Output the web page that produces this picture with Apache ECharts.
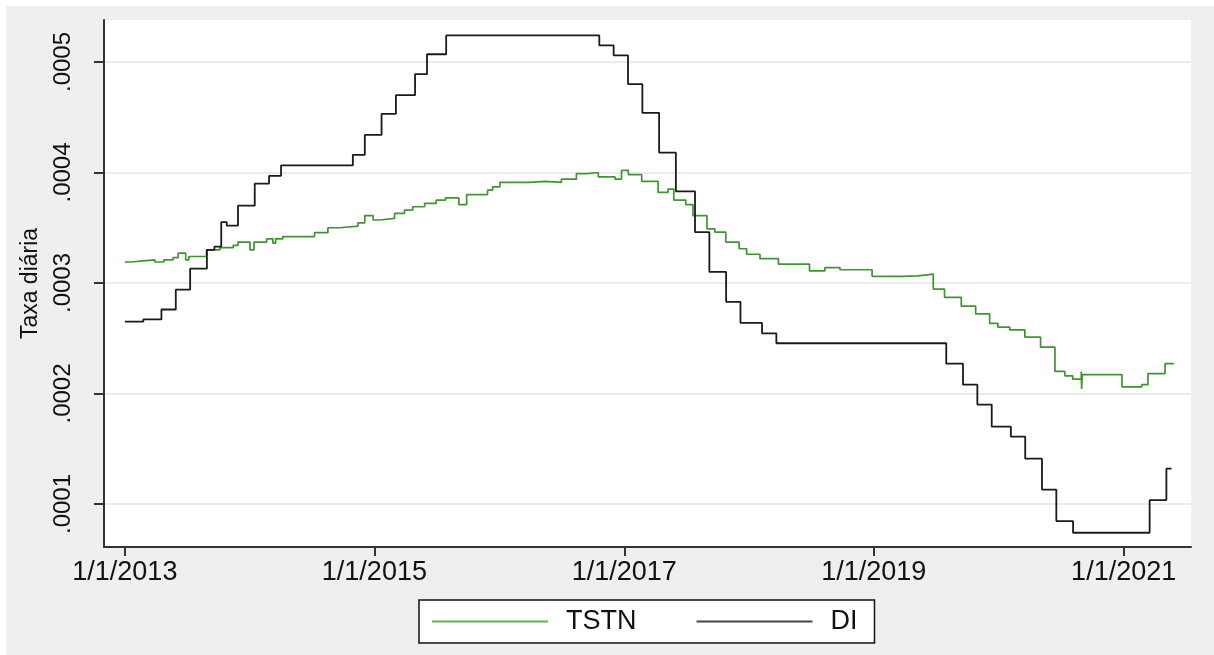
<!DOCTYPE html>
<html>
<head>
<meta charset="utf-8">
<script src="https://cdn.jsdelivr.net/npm/echarts@6/dist/echarts.min.js"></script>
<style>
html,body{margin:0;padding:0;background:#ffffff;}
#chart{position:absolute;left:6px;top:6px;width:1208px;height:649px;}
</style>
</head>
<body>
<div id="chart"></div>
<script>
// DI daily rate (step series): change dates and values
const diDates = ['2013-01-01','2013-02-24','2013-04-18','2013-05-30','2013-07-11','2013-08-29','2013-09-20','2013-10-10','2013-10-26','2013-11-28','2014-01-16','2014-02-27','2014-04-03','2014-10-30','2014-12-04','2015-01-22','2015-03-05','2015-04-30','2015-06-04','2015-07-30','2016-10-20','2016-12-01','2017-01-12','2017-02-23','2017-04-13','2017-06-01','2017-07-27','2017-09-07','2017-10-26','2017-12-07','2018-02-08','2018-03-22','2019-08-01','2019-09-19','2019-10-31','2019-12-12','2020-02-06','2020-03-19','2020-05-07','2020-06-18','2020-08-06','2021-03-18','2021-05-06','2021-05-21'];
const diValues = [0.000265,0.000267,0.000276,0.000294,0.000313,0.000330,0.000333,0.000355,0.000352,0.000370,0.000390,0.000397,0.0004065,0.000416,0.000434,0.000453,0.000470,0.000489,0.000507,0.000524,0.000515,0.000506,0.000480,0.000454,0.000418,0.000383,0.000346,0.000310,0.000283,0.000264,0.0002545,0.0002455,0.000227,0.000208,0.000190,0.000170,0.000161,0.000141,0.000113,0.0000846,0.000074,0.0001036,0.000132,0.000132];

// TSTN daily rate
const tstnDates = ['2013-01-01','2013-01-20','2013-02-23','2013-03-30','2013-04-25','2013-05-22','2013-06-06','2013-06-28','2013-07-07','2013-08-28','2013-10-06','2013-11-14','2013-11-28','2014-01-02','2014-01-14','2014-02-20','2014-03-10','2014-03-18','2014-04-08','2014-07-10','2014-08-18','2014-09-22','2014-11-14','2014-12-04','2014-12-28','2015-01-17','2015-03-01','2015-03-30','2015-04-23','2015-05-28','2015-07-01','2015-07-28','2015-09-05','2015-09-28','2015-11-28','2015-12-13','2016-01-03','2016-03-30','2016-05-15','2016-07-01','2016-08-14','2016-09-13','2016-10-17','2016-12-05','2016-12-24','2017-01-13','2017-02-21','2017-04-10','2017-05-09','2017-05-26','2017-06-30','2017-07-21','2017-08-31','2017-09-23','2017-10-25','2017-12-03','2017-12-25','2018-02-02','2018-03-28','2018-06-27','2018-08-11','2018-09-24','2018-12-27','2019-03-27','2019-05-10','2019-06-24','2019-07-27','2019-09-14','2019-10-26','2019-12-06','2019-12-30','2020-02-03','2020-03-18','2020-05-03','2020-06-14','2020-07-13','2020-08-05','2020-08-30','2020-08-31','2020-09-02','2020-12-12','2020-12-27','2021-02-23','2021-03-13','2021-05-02','2021-05-28'];
const tstnValues = [0.000319,0.000320,0.000321,0.000319,0.000321,0.000323,0.000327,0.000321,0.000324,0.000330,0.000332,0.000334,0.000337,0.000330,0.000337,0.000340,0.000336,0.000340,0.000342,0.0003455,0.000350,0.0003515,0.0003545,0.000361,0.000357,0.0003585,0.000363,0.000366,0.000369,0.000372,0.000375,0.000377,0.000371,0.000380,0.000384,0.000387,0.000391,0.000392,0.000391,0.000394,0.000399,0.000400,0.000396,0.000394,0.000402,0.000398,0.000392,0.000382,0.000385,0.000375,0.000371,0.000361,0.000349,0.000346,0.000337,0.000331,0.000326,0.000322,0.000317,0.000311,0.000314,0.000312,0.000306,0.0003065,0.000308,0.0002945,0.000287,0.000279,0.000272,0.0002635,0.000260,0.0002575,0.000251,0.000242,0.000220,0.000216,0.000213,0.000220,0.000204,0.000217,0.000217,0.000206,0.000208,0.000218,0.000227,0.000227];

const yTickValues = [0.0001,0.0002,0.0003,0.0004,0.0005];
const yTickLabels = ['.0001','.0002','.0003','.0004','.0005'];
const xTickDates = ['2013-01-01','2015-01-01','2017-01-01','2019-01-01','2021-01-01'];
const xTickLabels = ['1/1/2013','1/1/2015','1/1/2017','1/1/2019','1/1/2021'];

function ts(s){const p=s.split('-');return Date.UTC(+p[0],+p[1]-1,+p[2]);}
const xTickTs = xTickDates.map(ts);

const chart = echarts.init(document.getElementById('chart'), null, {renderer:'canvas'});
const FONT = '"Liberation Sans", Arial, sans-serif';
const axisColor = '#333333';
const green = '#3f9530';
chart.setOption({
  backgroundColor: '#efefef',
  animation: false,
  grid: {left: 98, right: 23, top: 14, bottom: 108, show: true, backgroundColor: '#ffffff', borderWidth: 0},
  xAxis: {
    type: 'value',
    min: ts('2012-11-01'),
    max: ts('2021-07-17'),
    axisLine: {show: true, onZero: false, lineStyle: {color: axisColor, width: 2}},
    axisTick: {show: true, length: 9, lineStyle: {color: axisColor, width: 2}, customValues: xTickTs},
    axisLabel: {
      customValues: xTickTs,
      margin: 12,
      color: '#111',
      fontFamily: FONT,
      fontSize: 27,
      formatter: function(v){
        const i = xTickTs.indexOf(v);
        return i >= 0 ? xTickLabels[i] : '';
      }
    },
    splitLine: {show: false}
  },
  yAxis: {
    type: 'value',
    min: 0.0000611,
    max: 0.000538,
    name: 'Taxa diária',
    nameLocation: 'middle',
    nameRotate: 90,
    nameGap: 62,
    nameTextStyle: {color: '#111', fontFamily: FONT, fontSize: 23},
    axisLine: {show: true, lineStyle: {color: axisColor, width: 2}},
    axisTick: {show: true, length: 10, lineStyle: {color: axisColor, width: 2}, customValues: yTickValues},
    axisLabel: {
      customValues: yTickValues,
      rotate: 90,
      margin: 29,
      color: '#111',
      fontFamily: FONT,
      fontSize: 24,
      formatter: function(v){
        for (let i = 0; i < yTickValues.length; i++) {
          if (Math.abs(v - yTickValues[i]) < 1e-9) return yTickLabels[i];
        }
        return '';
      }
    },
    splitLine: {show: true, lineStyle: {color: '#e6e6e6', width: 1.5}}
  },
  legend: {
    left: 413,
    top: 594,
    orient: 'horizontal',
    backgroundColor: '#ffffff',
    borderColor: '#111',
    borderWidth: 1.5,
    borderRadius: 0,
    padding: [8, 17, 8, 13],
    itemWidth: 116,
    itemHeight: 2,
    itemGap: 60,
    textStyle: {color: '#111', fontFamily: FONT, fontSize: 27, padding: [0, 0, 0, 13]},
    data: [
      {name: 'TSTN', icon: 'rect', itemStyle: {color: '#6aab5c'}},
      {name: 'DI', icon: 'rect', itemStyle: {color: '#444444'}}
    ]
  },
  series: [
    {
      name: 'TSTN',
      type: 'line',
      step: 'end',
      showSymbol: false,
      symbol: 'none',
      color: green,
      lineStyle: {color: green, width: 1.7},
      z: 3,
      data: tstnDates.map((d, i) => [ts(d), tstnValues[i]])
    },
    {
      name: 'DI',
      type: 'line',
      step: 'end',
      showSymbol: false,
      symbol: 'none',
      color: '#1a1a1a',
      lineStyle: {color: '#1a1a1a', width: 1.8},
      z: 4,
      data: diDates.map((d, i) => [ts(d), diValues[i]])
    }
  ]
});
</script>
</body>
</html>
